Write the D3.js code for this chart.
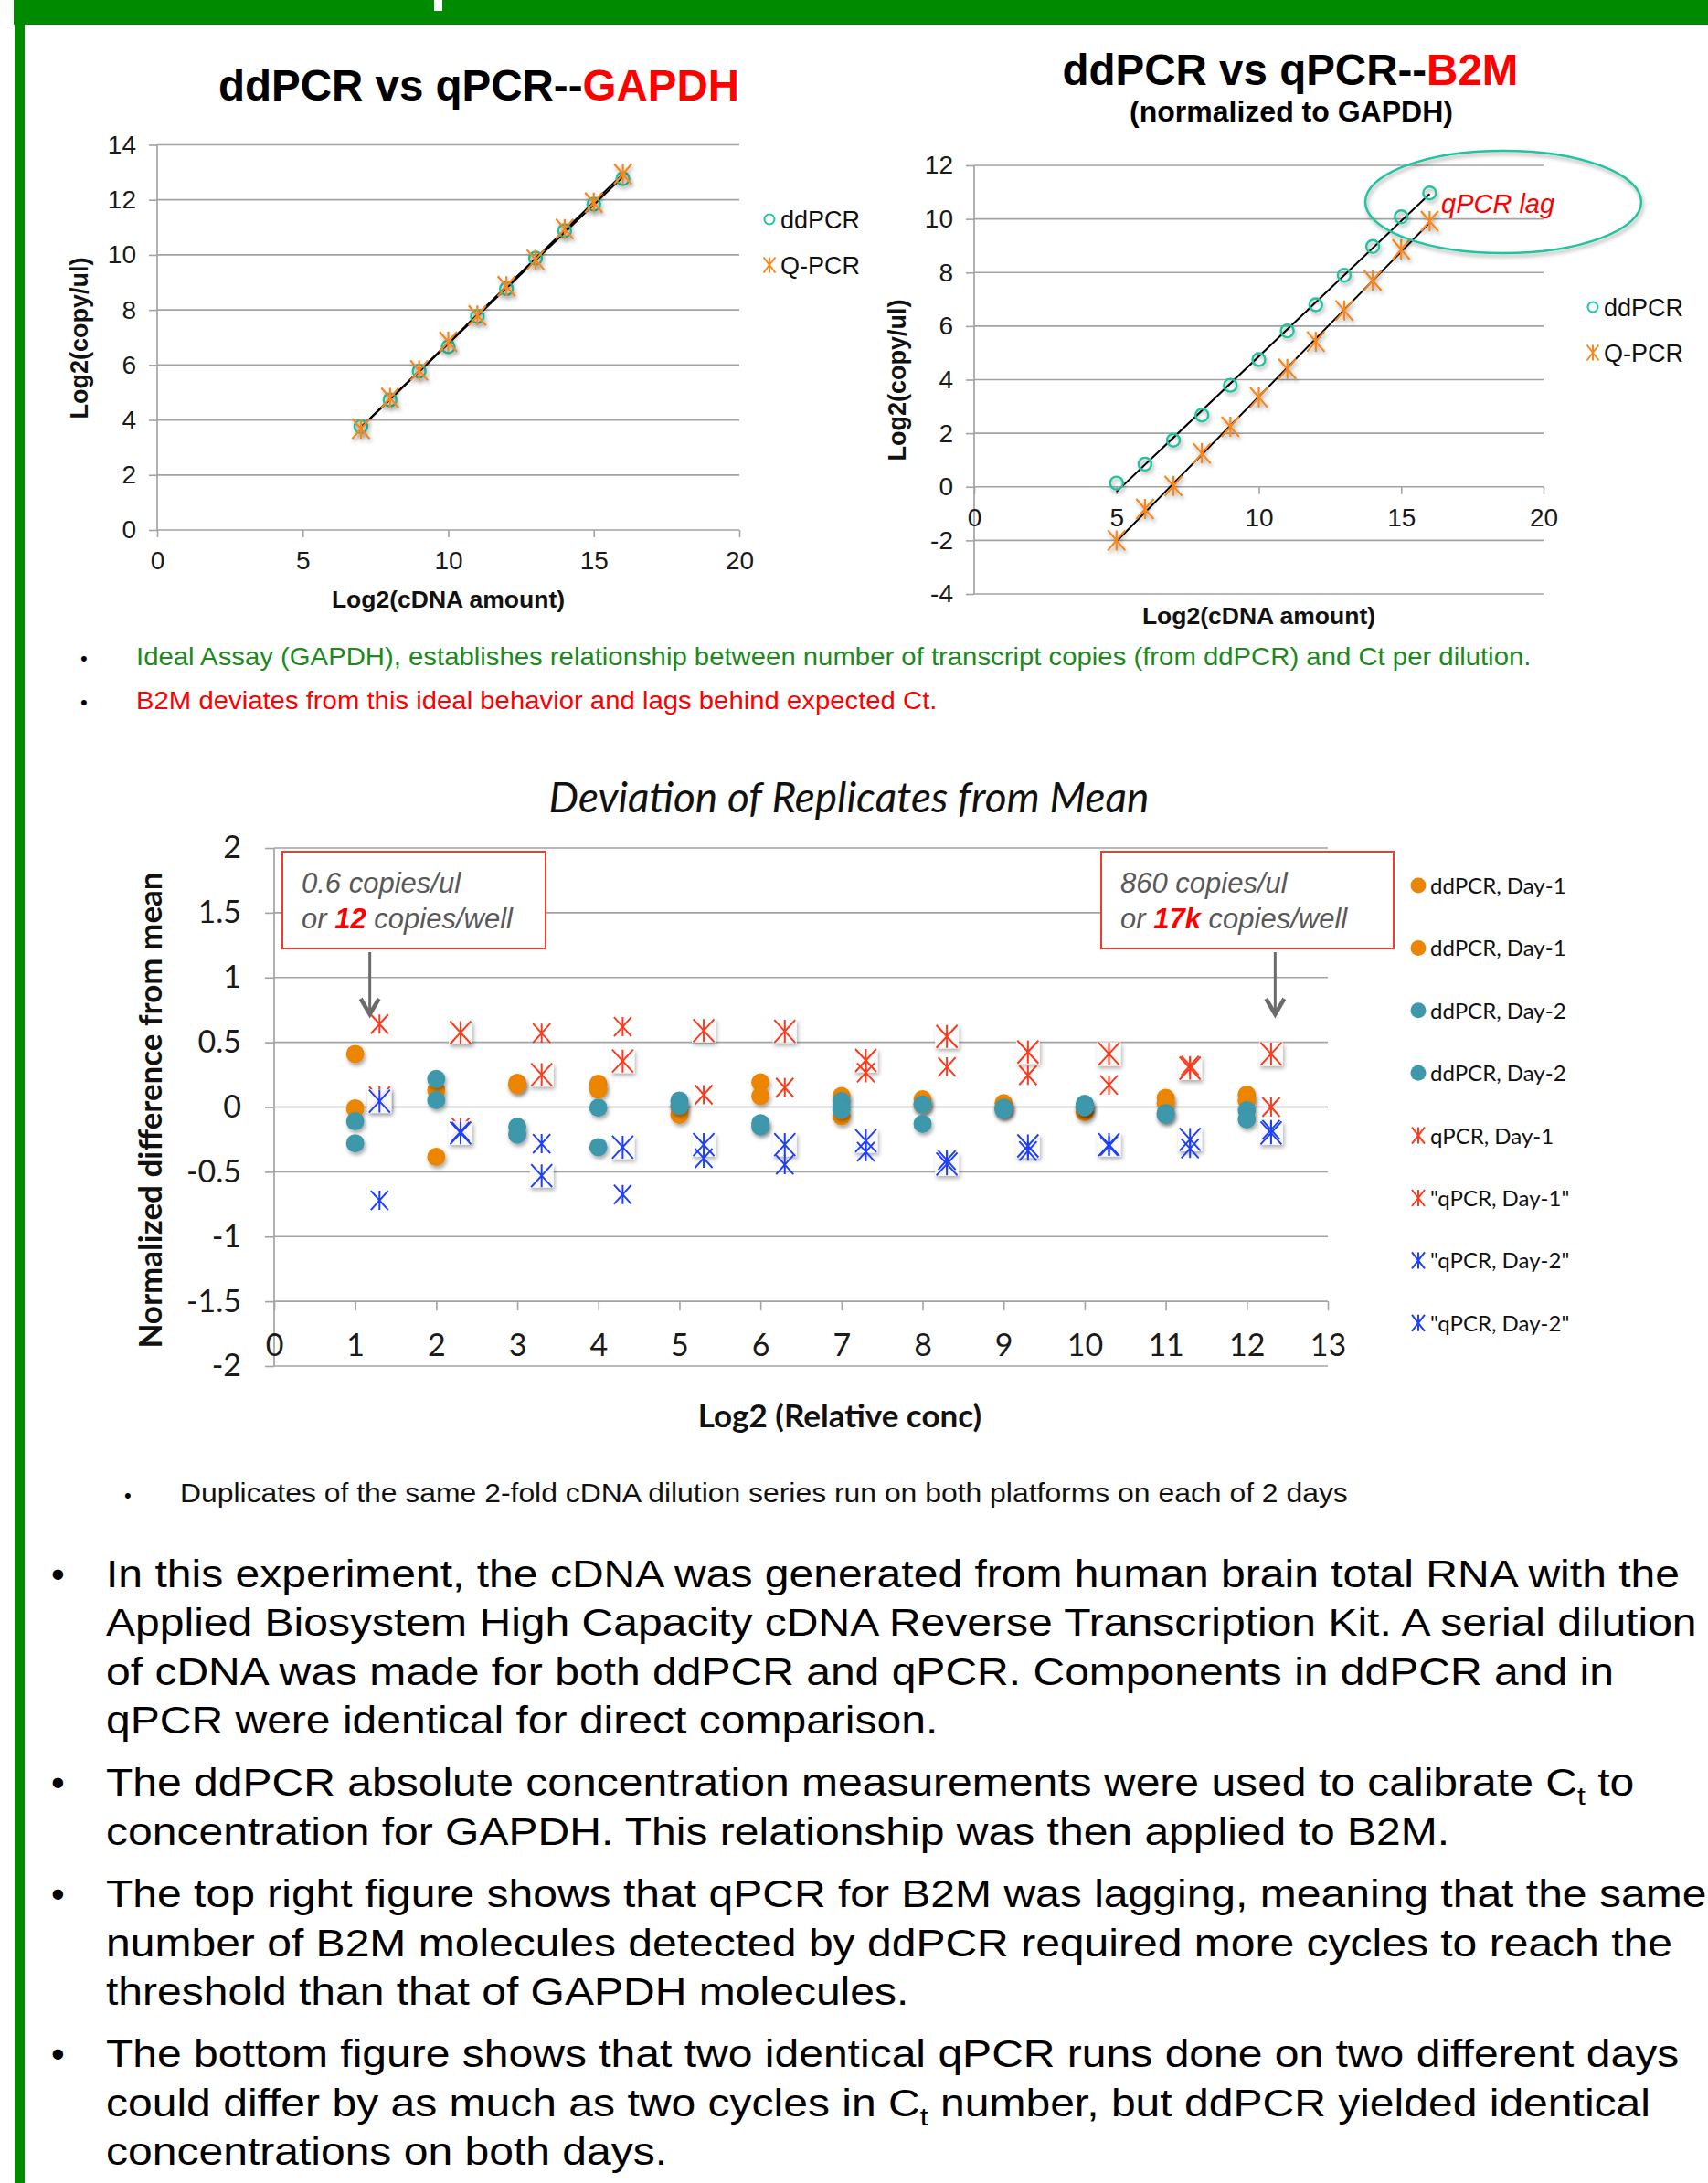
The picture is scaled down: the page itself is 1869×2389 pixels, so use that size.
<!DOCTYPE html>
<html>
<head>
<meta charset="utf-8">
<script src="https://cdn.jsdelivr.net/npm/d3@7"></script>
<style>
body { margin: 0; background: #fff; }
</style>
</head>
<body>
<script>
var w = 1869;
var h = 2389;

// top left chart: GAPDH
var gapdhDilution = [7, 8, 9, 10, 11, 12, 13, 14, 15, 16];
var gapdhDdpcr = [3.76, 4.73, 5.77, 6.66, 7.76, 8.77, 9.88, 10.88, 11.84, 12.77];
var gapdhQpcr = [3.68, 4.8, 5.8, 6.84, 7.8, 8.86, 9.82, 10.94, 11.9, 12.94];

// top right chart: B2M
var b2mDilution = [5, 6, 7, 8, 9, 10, 11, 12, 13, 14, 15, 16];
var b2mDdpcr = [0.14, 0.85, 1.74, 2.68, 3.79, 4.75, 5.82, 6.8, 7.9, 8.97, 10.08, 10.97];
var b2mQpcr = [-2.0, -0.83, 0.03, 1.25, 2.24, 3.34, 4.4, 5.42, 6.58, 7.7, 8.86, 9.92];

var topXTicks = [0, 5, 10, 15, 20];
var gapdhYTicks = [0, 2, 4, 6, 8, 10, 12, 14];
var b2mYTicks = [-4, -2, 0, 2, 4, 6, 8, 10, 12];
var topLegend = ["ddPCR", "Q-PCR"];

// bottom chart: deviation of replicates
var relConc = [1, 2, 3, 4, 5, 6, 7, 8, 9, 10, 11, 12];
var ddpcrDay1a = [0.41, 0.13, 0.187, 0.18, 0.0, 0.19, 0.085, 0.06, 0.03, -0.04, 0.07, 0.095];
var ddpcrDay1b = [-0.01, -0.385, 0.17, 0.135, -0.06, 0.085, -0.07, 0.02, -0.01, 0.0, 0.03, 0.05];
var ddpcrDay2a = [-0.11, 0.217, -0.152, -0.005, 0.05, -0.125, 0.045, 0.02, -0.005, 0.025, -0.047, -0.025];
var ddpcrDay2b = [-0.28, 0.053, -0.213, -0.31, 0.01, -0.15, -0.02, -0.13, -0.02, 0.0, -0.06, -0.095];
var qpcrDay1a = [0.07, 0.575, 0.25, 0.355, 0.59, 0.585, 0.36, 0.545, 0.425, 0.41, 0.3, 0.41];
var qpcrDay1b = [0.64, -0.16, 0.57, 0.62, 0.095, 0.15, 0.265, 0.31, 0.245, 0.17, 0.32, 0.0];
var qpcrDay2a = [0.045, -0.2, -0.53, -0.31, -0.29, -0.29, -0.26, -0.44, -0.3, -0.29, -0.25, -0.2];
var qpcrDay2b = [-0.72, -0.19, -0.283, -0.675, -0.395, -0.445, -0.345, -0.41, -0.34, -0.3, -0.32, -0.175];
var devNames = ["ddPCR, Day-1", "ddPCR, Day-1", "ddPCR, Day-2", "ddPCR, Day-2",
	"qPCR, Day-1", "\"qPCR, Day-1\"", "\"qPCR, Day-2\"", "\"qPCR, Day-2\""];
var devXTicks = [0, 1, 2, 3, 4, 5, 6, 7, 8, 9, 10, 11, 12, 13];
var devYTicks = [-2, -1.5, -1, -0.5, 0, 0.5, 1, 1.5, 2];
var qpcrShift = 0.3;

// texts
var noteGreen = "Ideal Assay (GAPDH), establishes relationship between number of transcript copies (from ddPCR) and Ct per dilution.";
var noteRed = "B2M deviates from this ideal behavior and lags behind expected Ct.";
var noteSmall = "Duplicates of the same 2-fold cDNA dilution series run on both platforms on each of 2 days";
var notes = [
	["In this experiment, the cDNA was generated from human brain total RNA with the",
	 "Applied Biosystem High Capacity cDNA Reverse Transcription Kit. A serial dilution",
	 "of cDNA was made for both ddPCR and qPCR. Components in ddPCR and in",
	 "qPCR were identical for direct comparison."],
	["The ddPCR absolute concentration measurements were used to calibrate C_t to",
	 "concentration for GAPDH. This relationship was then applied to B2M."],
	["The top right figure shows that qPCR for B2M was lagging, meaning that the same",
	 "number of B2M molecules detected by ddPCR required more cycles to reach the",
	 "threshold than that of GAPDH molecules."],
	["The bottom figure shows that two identical qPCR runs done on two different days",
	 "could differ by as much as two cycles in C_t number, but ddPCR yielded identical",
	 "concentrations on both days."]
];

var fontArial = "'Liberation Sans', Arial, sans-serif";
var fontCalibri = "Lato, 'Open Sans', sans-serif";
var colorGreen = "#008a00";
var colorGrid = "#a3a3a3";
var colorTeal = "#22c39f";
var colorOrange = "#f7871e";
var colorDdDay1 = "#ec8506";
var colorDdDay2 = "#3d98ab";
var colorQDay1 = "#fb3a1e";
var colorQDay2 = "#1f40f7";

var svg = d3.select("body")
			.append("svg")
			.attr("width", w)
			.attr("height", h)
			.style("display", "block");

svg.append("rect").attr("width", w).attr("height", h).attr("fill", "#fff");

var defs = svg.append("defs");
defs.append("filter")
	.attr("id", "shadow")
	.attr("x", "-60%").attr("y", "-60%").attr("width", "220%").attr("height", "220%")
	.append("feDropShadow")
	.attr("dx", 1.5).attr("dy", 3).attr("stdDeviation", 2)
	.attr("flood-color", "#000").attr("flood-opacity", 0.35);

// green frame
svg.append("rect").attr("x", 15).attr("y", 0).attr("width", w - 15).attr("height", 27).attr("fill", colorGreen);
svg.append("rect").attr("x", 16).attr("y", 0).attr("width", 11).attr("height", h).attr("fill", colorGreen);
svg.append("rect").attr("x", 475).attr("y", 0).attr("width", 9).attr("height", 12).attr("fill", "#fff");

function starPath(wd, ht) {
	var a = wd / 2, b = ht / 2;
	return "M0," + (-b) + "V" + b +
		"M" + (-a) + "," + (-b) + "L" + a + "," + b +
		"M" + (-a) + "," + b + "L" + a + "," + (-b);
}

function fitLine(xs, ys) {
	var mx = d3.mean(xs), my = d3.mean(ys);
	var sxy = d3.sum(xs, function(v, i) { return (v - mx) * (ys[i] - my); });
	var sxx = d3.sum(xs, function(v) { return (v - mx) * (v - mx); });
	var b = sxy / sxx;
	return function(v) { return my + b * (v - mx); };
}

function styleAxis(a, size, family) {
	a.select(".domain").remove();
	a.selectAll(".tick line").style("stroke", colorGrid).style("stroke-width", 1.6);
	a.selectAll(".tick text")
	 .attr("font-family", family)
	 .attr("font-size", size)
	 .attr("fill", "#1a1a1a");
}

// Arial text in the slide is a bit wider than Liberation Sans, so stretch it
function wideText(x, y, sx, size, color) {
	return svg.append("text")
		.attr("transform", "translate(" + x + "," + y + ") scale(" + sx + ",1)")
		.attr("font-family", fontArial)
		.attr("font-size", size)
		.attr("fill", color);
}

// the two upper scatter charts
function drawTopPanel(p) {
	var x = d3.scaleLinear().domain([0, 20]).range([p.left, p.right]);
	var y = d3.scaleLinear().domain(d3.extent(p.yTicks)).range([p.bottom, p.top]);
	var g = svg.append("g");

	g.selectAll("line.grid")
	   .data(p.yTicks)
	   .enter()
	   .append("line")
	   .attr("x1", p.left)
	   .attr("x2", p.right)
	   .attr("y1", function(d) { return y(d); })
	   .attr("y2", function(d) { return y(d); })
	   .style("stroke", colorGrid)
	   .style("stroke-width", 1.7);

	g.append("line")
	   .attr("x1", p.left).attr("x2", p.left)
	   .attr("y1", y(p.yTicks[p.yTicks.length - 1])).attr("y2", y(p.yTicks[0]))
	   .style("stroke", colorGrid).style("stroke-width", 1.7);

	var ya = g.append("g")
	   .attr("transform", "translate(" + p.left + ",0)")
	   .call(d3.axisLeft(y).tickValues(p.yTicks).tickSize(9).tickPadding(14).tickFormat(String));
	styleAxis(ya, 28, fontArial);

	var xa = g.append("g")
	   .attr("transform", "translate(0," + y(0) + ")")
	   .call(d3.axisBottom(x).tickValues(topXTicks).tickSize(8).tickPadding(15));
	styleAxis(xa, 28, fontArial);

	// trend lines
	p.series.forEach(function(s) {
		var f = fitLine(p.xs, s);
		g.append("line")
		   .attr("x1", x(p.xs[0])).attr("y1", y(f(p.xs[0])))
		   .attr("x2", x(p.xs[p.xs.length - 1])).attr("y2", y(f(p.xs[p.xs.length - 1])))
		   .style("stroke", "#000").style("stroke-width", 2);
	});

	// markers
	g.selectAll("circle.dd")
	   .data(p.series[0])
	   .enter()
	   .append("circle")
	   .attr("cx", function(d, i) { return x(p.xs[i]); })
	   .attr("cy", function(d) { return y(d); })
	   .attr("r", 7)
	   .attr("fill", "none")
	   .attr("filter", "url(#shadow)")
	   .style("stroke", colorTeal)
	   .style("stroke-width", 2.4);

	g.selectAll("path.q")
	   .data(p.series[1])
	   .enter()
	   .append("path")
	   .attr("d", starPath(19, 22))
	   .attr("transform", function(d, i) { return "translate(" + x(p.xs[i]) + "," + y(d) + ")"; })
	   .attr("fill", "none")
	   .attr("filter", "url(#shadow)")
	   .style("stroke", colorOrange)
	   .style("stroke-width", 2.2);

	// axis titles
	g.append("text")
	   .text("Log2(cDNA amount)")
	   .attr("x", x(10))
	   .attr("y", p.xTitleY)
	   .attr("text-anchor", "middle")
	   .attr("font-family", fontArial)
	   .attr("font-weight", "bold")
	   .attr("font-size", 26.5)
	   .attr("fill", "#111");

	g.append("text")
	   .text("Log2(copy/ul)")
	   .attr("transform", "translate(" + p.yTitleX + "," + p.yTitleY + ") rotate(-90)")
	   .attr("text-anchor", "middle")
	   .attr("font-family", fontArial)
	   .attr("font-weight", "bold")
	   .attr("font-size", 27)
	   .attr("fill", "#111");

	// legend
	var lg = g.selectAll("g.legend")
	   .data(topLegend)
	   .enter()
	   .append("g")
	   .attr("transform", function(d, i) { return "translate(" + p.legendX + "," + (p.legendY + i * 50) + ")"; });
	lg.append("text")
	   .text(function(d) { return d; })
	   .attr("x", 12)
	   .attr("y", 10)
	   .attr("font-family", fontArial)
	   .attr("font-size", 27)
	   .attr("fill", "#111");
	lg.filter(function(d, i) { return i == 0; })
	   .append("circle")
	   .attr("r", 5.5)
	   .attr("fill", "none")
	   .style("stroke", colorTeal)
	   .style("stroke-width", 2);
	lg.filter(function(d, i) { return i == 1; })
	   .append("path")
	   .attr("d", starPath(13, 17))
	   .attr("fill", "none")
	   .style("stroke", colorOrange)
	   .style("stroke-width", 2);

	return {x: x, y: y};
}

drawTopPanel({
	left: 172, right: 809, top: 158.5, bottom: 580,
	yTicks: gapdhYTicks, xs: gapdhDilution, series: [gapdhDdpcr, gapdhQpcr],
	xTitleY: 665, yTitleX: 96, yTitleY: 370,
	legendX: 842, legendY: 240
});

drawTopPanel({
	left: 1066, right: 1689, top: 181, bottom: 650,
	yTicks: b2mYTicks, xs: b2mDilution, series: [b2mDdpcr, b2mQpcr],
	xTitleY: 683, yTitleX: 991, yTitleY: 416,
	legendX: 1743, legendY: 336
});

// titles
var t1 = svg.append("text")
	.attr("x", 524)
	.attr("y", 110)
	.attr("text-anchor", "middle")
	.attr("font-family", fontArial)
	.attr("font-weight", "bold")
	.attr("font-size", 47.5)
	.attr("fill", "#000");
t1.append("tspan").text("ddPCR vs qPCR--");
t1.append("tspan").text("GAPDH").attr("fill", "#ff0000");

var t2 = svg.append("text")
	.attr("x", 1412)
	.attr("y", 93)
	.attr("text-anchor", "middle")
	.attr("font-family", fontArial)
	.attr("font-weight", "bold")
	.attr("font-size", 47.5)
	.attr("fill", "#000");
t2.append("tspan").text("ddPCR vs qPCR--");
t2.append("tspan").text("B2M").attr("fill", "#ff0000");

svg.append("text")
	.text("(normalized to GAPDH)")
	.attr("x", 1413)
	.attr("y", 133)
	.attr("text-anchor", "middle")
	.attr("font-family", fontArial)
	.attr("font-weight", "bold")
	.attr("font-size", 32)
	.attr("fill", "#000");

// qPCR lag callout
svg.append("ellipse")
	.attr("cx", 1645).attr("cy", 221).attr("rx", 151).attr("ry", 56)
	.attr("fill", "none")
	.attr("filter", "url(#shadow)")
	.style("stroke", colorTeal)
	.style("stroke-width", 2.5);
svg.append("text")
	.text("qPCR lag")
	.attr("x", 1577)
	.attr("y", 233)
	.attr("font-family", fontArial)
	.attr("font-style", "italic")
	.attr("font-size", 29)
	.attr("fill", "#ff0000");

// notes between the charts
function bullet(x, y, size, color) {
	svg.append("text").text("\u2022")
		.attr("x", x).attr("y", y)
		.attr("font-family", fontArial).attr("font-size", size).attr("fill", color);
}
bullet(88, 728, 22, "#000");
wideText(149, 728, 1.086, 27, "#1c8a1c").text(noteGreen);
bullet(88, 776, 22, "#000");
wideText(149, 776, 1.086, 27, "#ff0000").text(noteRed);

// deviation chart
var xDev = d3.scaleLinear().domain([0, 13]).range([300, 1453]);
var yDev = d3.scaleLinear().domain([-2, 2]).range([1495, 928]);
var gd = svg.append("g");

gd.selectAll("line.grid")
	.data(devYTicks)
	.enter()
	.append("line")
	.attr("x1", xDev(0)).attr("x2", xDev(13))
	.attr("y1", function(d) { return yDev(d); })
	.attr("y2", function(d) { return yDev(d); })
	.style("stroke", colorGrid)
	.style("stroke-width", 1.7);

gd.append("line")
	.attr("x1", xDev(0)).attr("x2", xDev(0))
	.attr("y1", yDev(2)).attr("y2", yDev(-2))
	.style("stroke", colorGrid).style("stroke-width", 1.7);

var dya = gd.append("g")
	.attr("transform", "translate(" + xDev(0) + ",0)")
	.call(d3.axisLeft(yDev).tickValues(devYTicks).tickSize(10).tickPadding(26).tickFormat(String));
styleAxis(dya, 34, fontCalibri);

var dxa = gd.append("g")
	.attr("transform", "translate(0," + yDev(-1.5) + ")")
	.call(d3.axisBottom(xDev).tickValues(devXTicks).tickSize(10).tickPadding(26));
styleAxis(dxa, 34, fontCalibri);

gd.append("text")
	.text("Deviation of Replicates from Mean")
	.attr("x", 929)
	.attr("y", 889)
	.attr("text-anchor", "middle")
	.attr("font-family", fontCalibri)
	.attr("font-style", "italic")
	.attr("font-size", 46)
	.attr("fill", "#111");

gd.append("text")
	.text("Log2 (Relative conc)")
	.attr("x", 919)
	.attr("y", 1562)
	.attr("text-anchor", "middle")
	.attr("font-family", fontCalibri)
	.attr("font-weight", "bold")
	.attr("font-size", 35)
	.attr("fill", "#111");

gd.append("text")
	.text("Normalized difference from mean")
	.attr("transform", "translate(177,1215) rotate(-90)")
	.attr("text-anchor", "middle")
	.attr("font-family", fontCalibri)
	.attr("font-weight", "bold")
	.attr("font-size", 35)
	.attr("fill", "#111");

// ddPCR replicates (filled circles)
var circleSeries = [
	{vals: ddpcrDay1a, color: colorDdDay1},
	{vals: ddpcrDay1b, color: colorDdDay1},
	{vals: ddpcrDay2a, color: colorDdDay2},
	{vals: ddpcrDay2b, color: colorDdDay2}
];
circleSeries.forEach(function(s, k) {
	gd.selectAll("circle.s" + k)
		.data(s.vals)
		.enter()
		.append("circle")
		.attr("cx", function(d, i) { return xDev(relConc[i]); })
		.attr("cy", function(d) { return yDev(d); })
		.attr("r", 10)
		.attr("fill", s.color)
		.attr("filter", "url(#shadow)");
});

// qPCR replicates (stars), shifted right of the ddPCR ones
var starSeries = [
	{vals: qpcrDay1a, color: colorQDay1, boxed: true},
	{vals: qpcrDay1b, color: colorQDay1, boxed: false},
	{vals: qpcrDay2a, color: colorQDay2, boxed: true},
	{vals: qpcrDay2b, color: colorQDay2, boxed: false}
];
starSeries.forEach(function(s, k) {
	var pts = gd.selectAll("g.q" + k)
		.data(s.vals)
		.enter()
		.append("g")
		.attr("transform", function(d, i) { return "translate(" + xDev(relConc[i] + qpcrShift) + "," + yDev(d) + ")"; });
	if (s.boxed) {
		pts.append("rect")
			.attr("x", -13).attr("y", -13).attr("width", 26).attr("height", 26)
			.attr("fill", "#fff")
			.attr("fill-opacity", 0.85)
			.attr("filter", "url(#shadow)");
	}
	pts.append("path")
		.attr("d", s.boxed ? starPath(23, 25) : starPath(19, 21))
		.attr("fill", "none")
		.style("stroke", s.color)
		.style("stroke-width", 2);
});

// callout boxes
function callout(x0, y0, bw, bh, line1, num, arrowX) {
	gd.append("rect")
		.attr("x", x0).attr("y", y0).attr("width", bw).attr("height", bh)
		.attr("fill", "#fff")
		.style("stroke", "#f03c28")
		.style("stroke-width", 2);
	var tx = gd.append("text")
		.attr("x", x0 + 21).attr("y", y0 + 45)
		.attr("font-family", fontArial).attr("font-style", "italic")
		.attr("font-size", 31).attr("fill", "#595959");
	tx.text(line1);
	var t2 = gd.append("text")
		.attr("x", x0 + 21).attr("y", y0 + 84)
		.attr("font-family", fontArial).attr("font-style", "italic")
		.attr("font-size", 31).attr("fill", "#595959");
	t2.append("tspan").text("or ");
	t2.append("tspan").text(num).attr("font-weight", "bold").attr("fill", "#ff0000");
	t2.append("tspan").text(" copies/well");
	var ay0 = y0 + bh + 4, ay1 = y0 + bh + 72;
	gd.append("line")
		.attr("x1", arrowX).attr("x2", arrowX).attr("y1", ay0).attr("y2", ay1)
		.style("stroke", "#6b6b6b").style("stroke-width", 3);
	gd.append("path")
		.attr("d", "M" + (arrowX - 10) + "," + (ay1 - 17) + "L" + arrowX + "," + ay1 + "L" + (arrowX + 10) + "," + (ay1 - 17))
		.attr("fill", "none")
		.style("stroke", "#6b6b6b").style("stroke-width", 4.5).style("stroke-linejoin", "miter");
}
callout(309, 932, 288, 106, "0.6 copies/ul", "12", xDev(1.18));
callout(1205, 932, 320, 106, "860 copies/ul", "17k", xDev(12.35));

// legend
var legendColors = [colorDdDay1, colorDdDay1, colorDdDay2, colorDdDay2, colorQDay1, colorQDay1, colorQDay2, colorQDay2];
var dl = gd.selectAll("g.dlegend")
	.data(devNames)
	.enter()
	.append("g")
	.attr("transform", function(d, i) { return "translate(1552," + (969 + i * 68.4) + ")"; });
dl.append("text")
	.text(function(d) { return d; })
	.attr("x", 13)
	.attr("y", 9)
	.attr("font-family", fontCalibri)
	.attr("font-size", 24)
	.attr("fill", "#111");
dl.filter(function(d, i) { return i < 4; })
	.append("circle")
	.attr("r", 8.5)
	.attr("fill", function(d, i) { return legendColors[i]; });
dl.filter(function(d, i) { return i >= 4; })
	.append("path")
	.attr("d", starPath(14, 18))
	.attr("fill", "none")
	.style("stroke", function(d, i) { return legendColors[i + 4]; })
	.style("stroke-width", 2);

// notes under the chart
bullet(136, 1644, 22, "#000");
wideText(197, 1644, 1.1, 29, "#111").text(noteSmall);

var lineY = 1737;
notes.forEach(function(par, k) {
	if (k > 0) { lineY += 15.2; }
	bullet(56, lineY, 42, "#000");
	par.forEach(function(line) {
		var t = wideText(116, lineY, 1.144, 42, "#000");
		var parts = line.split("_t");
		parts.forEach(function(part, j) {
			if (j > 0) {
				t.append("tspan").text("t").attr("font-size", 28).attr("dy", 10);
				t.append("tspan").text(part).attr("dy", -10);
			} else {
				t.append("tspan").text(part);
			}
		});
		lineY += 53.3;
	});
});
</script>
</body>
</html>
